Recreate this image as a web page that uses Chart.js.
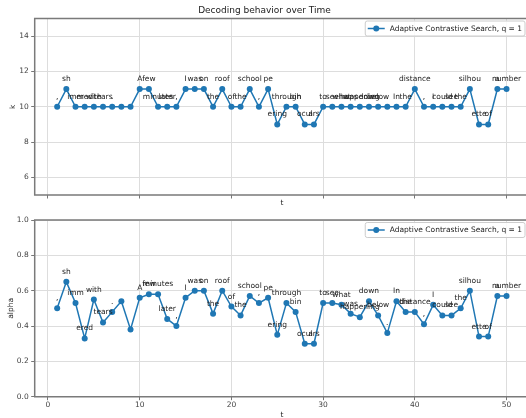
<!DOCTYPE html>
<html>
<head>
<meta charset="utf-8">
<title>Decoding behavior over Time</title>
<script src="https://cdn.jsdelivr.net/npm/chart.js@4.4.1/dist/chart.umd.min.js"></script>
<style>
  html, body { margin: 0; padding: 0; background: #fff; overflow: hidden; width: 526px; height: 418px; }
  #kChart { position: absolute; left: 0; top: 0; }
  #alphaChart { position: absolute; left: 0; top: 208px; }
</style>
</head>
<body>
<canvas id="kChart" width="536" height="208"></canvas>
<canvas id="alphaChart" width="536" height="210"></canvas>
<script>
// ===== Data =====
const steps = [1,2,3,4,5,6,7,8,9,10,11,12,13,14,15,16,17,18,19,20,21,22,23,24,25,
               26,27,28,29,30,31,32,33,34,35,36,37,38,39,40,41,42,43,44,45,46,47,48,49,50];

const tokens = [",","sh","imm","ered","with","tears",".","","","A",
                "few","minutes","later",",","I","was","on","the","roof","of",
                "the","school",",","pe","ering","through","bin","ocul","ars","to",
                "see","what","was","happening","down","below",".","In","the","distance",
                ",","I","could","see","the","silhou","ette","of","a","number"];

const kValues = [10,11,10,10,10,10,10,10,10,11,
                 11,10,10,10,11,11,11,10,11,10,
                 10,11,10,11,9,10,10,9,9,10,
                 10,10,10,10,10,10,10,10,10,11,
                 10,10,10,10,10,11,9,9,11,11];

const alphaValues = [0.50,0.65,0.53,0.33,0.55,0.42,0.48,0.54,0.38,0.56,
                     0.58,0.58,0.44,0.40,0.56,0.60,0.60,0.47,0.60,0.51,
                     0.46,0.57,0.53,0.56,0.35,0.53,0.48,0.30,0.30,0.53,
                     0.53,0.52,0.47,0.45,0.54,0.46,0.36,0.54,0.48,0.48,
                     0.41,0.52,0.46,0.46,0.50,0.60,0.34,0.34,0.57,0.57];

const xTicks = [0, 10, 20, 30, 40, 50];
const kTicks = [6, 8, 10, 12, 14];
const alphaTicks = [0.0, 0.2, 0.4, 0.6, 0.8, 1.0];

const seriesLabel = "Adaptive Contrastive Search, q = 1";
const chartTitle = "Decoding behavior over Time";

// ===== Style =====
const BLUE = "#1f77b4";
const FONT = "DejaVu Sans";
const SMALL = 7.5;

// token text above each point
const tokenPlugin = {
  id: "tokens",
  afterDatasetsDraw(chart) {
    const meta = chart.getDatasetMeta(0);
    const ctx = chart.ctx;
    ctx.save();
    ctx.font = `${SMALL}px "${FONT}"`;
    ctx.fillStyle = "#222";
    ctx.textAlign = "center";
    ctx.textBaseline = "alphabetic";
    meta.data.forEach((pt, i) => {
      const t = tokens[i];
      if (t) ctx.fillText(t, pt.x, pt.y - 8);
    });
    ctx.restore();
  }
};

// axes frame (left/top/bottom, right edge is cropped) + boxed legend
const framePlugin = {
  id: "frame",
  afterDraw(chart) {
    const { ctx, chartArea: a } = chart;
    ctx.save();
    ctx.strokeStyle = "#7a7a7a";
    ctx.lineWidth = 1.5;
    ctx.beginPath();
    ctx.moveTo(a.right + 5, a.top);
    ctx.lineTo(a.left, a.top);
    ctx.lineTo(a.left, a.bottom);
    ctx.lineTo(a.right + 5, a.bottom);
    ctx.stroke();

    // legend
    ctx.font = `${SMALL}px "${FONT}"`;
    const label = chart.data.datasets[0].label;
    const tw = ctx.measureText(label).width;
    const right = a.right - 4;
    const top = a.top + 2.5;
    const h = 15;
    const textX = right - 3 - tw;
    const lineX0 = textX - 22;
    const lineX1 = textX - 5;
    const left = lineX0 - 2.5;
    ctx.fillStyle = "rgba(255,255,255,0.85)";
    ctx.strokeStyle = "#cccccc";
    ctx.lineWidth = 1;
    ctx.beginPath();
    ctx.roundRect(left, top, right - left, h, 2);
    ctx.fill();
    ctx.stroke();
    const cy = top + h / 2;
    ctx.strokeStyle = BLUE;
    ctx.lineWidth = 1.5;
    ctx.beginPath();
    ctx.moveTo(lineX0, cy);
    ctx.lineTo(lineX1, cy);
    ctx.stroke();
    ctx.fillStyle = BLUE;
    ctx.beginPath();
    ctx.arc((lineX0 + lineX1) / 2, cy, 3, 0, Math.PI * 2);
    ctx.fill();
    ctx.fillStyle = "#222";
    ctx.textBaseline = "middle";
    ctx.fillText(label, textX, cy + 0.5);
    ctx.restore();
  }
};

function makeChart(id, values, opts) {
  return new Chart(document.getElementById(id), {
    type: "line",
    data: {
      datasets: [{
        label: seriesLabel,
        data: steps.map((s, i) => ({ x: s, y: values[i] })),
        borderColor: BLUE,
        backgroundColor: BLUE,
        borderWidth: 1.5,
        pointRadius: 3,
        pointBorderWidth: 0,
        pointBackgroundColor: BLUE,
        tension: 0
      }]
    },
    options: {
      responsive: false,
      animation: false,
      layout: { padding: { left: 0, right: 7, top: opts.padTop, bottom: 0 } },
      plugins: {
        legend: { display: false },
        tooltip: { enabled: false },
        title: opts.title ? {
          display: true,
          text: chartTitle,
          color: "#222",
          font: { family: FONT, size: 9, weight: "normal" },
          padding: { top: 5, bottom: 2.7 }
        } : { display: false }
      },
      scales: {
        x: {
          type: "linear",
          min: -1.45,
          max: 52.45,
          afterBuildTicks: (s) => { s.ticks = xTicks.map(v => ({ value: v })); },
          afterFit: (s) => { s.height = opts.xHeight; },
          grid: { color: "#dddddd", lineWidth: 1, tickLength: 3.5, tickColor: "#777" },
          border: { display: false },
          ticks: {
            display: opts.showXLabels,
            color: "#444",
            padding: 0.5,
            maxRotation: 0,
            font: { family: FONT, size: SMALL }
          },
          title: {
            display: true,
            text: "t",
            color: "#222",
            font: { family: FONT, size: SMALL, lineHeight: 1 },
            padding: { top: 0, bottom: opts.tPad }
          }
        },
        y: {
          type: "linear",
          min: opts.yMin,
          max: opts.yMax,
          afterBuildTicks: (s) => { s.ticks = opts.yTicks.map(v => ({ value: v })); },
          afterFit: (s) => { s.width = 34.7; },
          grid: { color: "#dddddd", lineWidth: 1, tickLength: 3.5, tickColor: "#777" },
          border: { display: false },
          ticks: {
            color: "#444",
            padding: 2.5,
            font: { family: FONT, size: SMALL },
            callback: (v) => Number(v).toFixed(opts.decimals)
          },
          title: {
            display: true,
            text: opts.yLabel,
            color: "#222",
            font: { family: FONT, size: SMALL, lineHeight: 1.2 },
            padding: { top: opts.yTitlePad, bottom: 0 }
          }
        }
      }
    },
    plugins: [tokenPlugin, framePlugin]
  });
}

makeChart("kChart", kValues, {
  title: true, padTop: 0, xHeight: 13, showXLabels: false, tPad: 1,
  yMin: 5, yMax: 15, yTicks: kTicks, decimals: 0, yLabel: "k", yTitlePad: 9
});

makeChart("alphaChart", alphaValues, {
  title: false, padTop: 12, xHeight: 21.3, showXLabels: true, tPad: -1,
  yMin: 0, yMax: 1, yTicks: alphaTicks, decimals: 1, yLabel: "alpha", yTitlePad: 6.5
});
</script>
</body>
</html>
